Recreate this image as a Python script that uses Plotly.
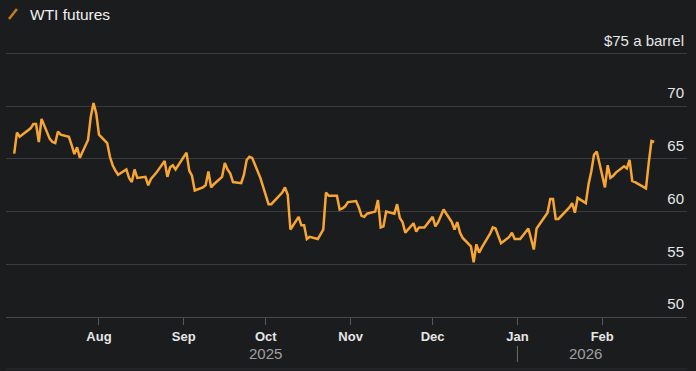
import pandas as pd
import plotly.graph_objects as go

# ---- data ----
dates = [
    "2025-07-01","2025-07-02","2025-07-03","2025-07-07","2025-07-08","2025-07-09","2025-07-10","2025-07-11",
    "2025-07-14","2025-07-15","2025-07-16","2025-07-17","2025-07-18","2025-07-21","2025-07-22","2025-07-23",
    "2025-07-24","2025-07-25","2025-07-28","2025-07-29","2025-07-30","2025-07-31",
    "2025-08-01","2025-08-04","2025-08-05","2025-08-06","2025-08-07","2025-08-08","2025-08-11","2025-08-12",
    "2025-08-13","2025-08-14","2025-08-15","2025-08-18","2025-08-19","2025-08-20","2025-08-21","2025-08-22",
    "2025-08-25","2025-08-26","2025-08-27","2025-08-28","2025-08-29",
    "2025-09-02","2025-09-03","2025-09-04","2025-09-05","2025-09-08","2025-09-09","2025-09-10","2025-09-11",
    "2025-09-12","2025-09-15","2025-09-16","2025-09-17","2025-09-18","2025-09-19","2025-09-22","2025-09-23",
    "2025-09-24","2025-09-25","2025-09-26","2025-09-29","2025-09-30",
    "2025-10-01","2025-10-02","2025-10-03","2025-10-06","2025-10-07","2025-10-08","2025-10-09","2025-10-10",
    "2025-10-13","2025-10-14","2025-10-15","2025-10-16","2025-10-17","2025-10-20","2025-10-21","2025-10-22",
    "2025-10-23","2025-10-24","2025-10-27","2025-10-28","2025-10-29","2025-10-30","2025-10-31",
    "2025-11-03","2025-11-04","2025-11-05","2025-11-06","2025-11-07","2025-11-10","2025-11-11","2025-11-12",
    "2025-11-13","2025-11-14","2025-11-17","2025-11-18","2025-11-19","2025-11-20","2025-11-21","2025-11-24",
    "2025-11-25","2025-11-26","2025-11-28",
    "2025-12-01","2025-12-02","2025-12-03","2025-12-04","2025-12-05","2025-12-08","2025-12-09","2025-12-10",
    "2025-12-11","2025-12-12","2025-12-15","2025-12-16","2025-12-17","2025-12-18","2025-12-19","2025-12-22",
    "2025-12-23","2025-12-24","2025-12-26","2025-12-29","2025-12-30","2025-12-31",
    "2026-01-02","2026-01-05","2026-01-06","2026-01-07","2026-01-08","2026-01-09","2026-01-12","2026-01-13",
    "2026-01-14","2026-01-15","2026-01-16","2026-01-20","2026-01-21","2026-01-22","2026-01-23","2026-01-26",
    "2026-01-27","2026-01-28","2026-01-29","2026-01-30",
    "2026-02-02","2026-02-03","2026-02-04","2026-02-05","2026-02-06","2026-02-09","2026-02-10","2026-02-11",
    "2026-02-12","2026-02-13","2026-02-17","2026-02-18","2026-02-19","2026-02-20",
]
wti = [
    65.5, 67.5, 67.1, 67.9, 68.3, 68.3, 66.6, 68.8,
    66.9, 66.6, 66.5, 67.6, 67.3, 67.1, 66.3, 65.45,
    66.1, 65.1, 66.8, 69.0, 70.3, 69.3,
    67.3, 66.5, 65.2, 64.4, 63.9, 63.5, 64.0, 63.2,
    62.8, 64.0, 63.2, 63.3, 62.5, 63.1, 63.4, 63.7,
    64.8, 63.3, 64.2, 64.4, 64.0,
    65.6, 63.9, 63.4, 62.0, 62.3, 62.5, 63.8, 62.3,
    62.6, 63.3, 64.6, 64.0, 63.6, 62.8, 62.7, 63.5,
    64.9, 65.2, 65.1, 63.2, 62.4,
    61.7, 60.7, 60.7, 61.6, 61.8, 62.3, 61.6, 58.3,
    59.5, 58.7, 58.7, 57.4, 57.6, 57.4, 57.9, 58.3,
    61.8, 61.5, 61.5, 60.2, 60.3, 60.5, 60.9,
    61.0, 60.4, 59.6, 59.5, 59.8, 60.0, 61.1, 58.5,
    58.6, 60.0, 59.8, 60.7, 59.4, 59.0, 58.0, 58.9,
    58.1, 58.5, 58.5,
    59.5, 58.6, 59.0, 59.6, 60.2, 59.0, 58.3, 59.0,
    58.0, 57.5, 56.7, 55.2, 56.9, 56.1, 56.6, 57.9,
    58.5, 58.4, 57.0, 57.6, 58.0, 57.4,
    57.4, 58.4, 57.3, 56.4, 58.4, 58.8, 59.9, 61.2,
    61.2, 59.3, 59.3, 60.4, 60.8, 59.9, 61.3, 60.8,
    62.6, 63.8, 65.4, 65.7,
    62.3, 64.4, 63.2, 63.4, 63.7, 64.3, 64.1, 64.9,
    62.9, 62.8, 62.2, 64.6, 66.7, 66.6,
]
series_name = "WTI futures"
month_ticks = ["2025-08-01","2025-09-01","2025-10-01","2025-11-01","2025-12-01","2026-01-01","2026-02-01"]
month_labels = ["Aug","Sep","Oct","Nov","Dec","Jan","Feb"]
y_ticks = [50, 55, 60, 65, 70, 75]
y_labels = ["50", "55", "60", "65", "70", "$75 a barrel"]
year_break = "2026-01-01"

# ---- styling ----
BG = "#1b1c1e"
LINE = "#f7a533"
GRID = "#3a3b3e"
TXT = "#e6e6e6"
FONT = "Liberation Sans, Arial, sans-serif"

d = pd.to_datetime(dates)
brk = pd.Timestamp(year_break)
mid25 = d[0] + (brk - d[0]) / 2
mid26 = brk + (d[-1] - brk) / 2

fig = go.Figure()
fig.add_trace(go.Scatter(x=d, y=wti, mode="lines", name=series_name,
                         line=dict(color=LINE, width=2.5), hoverinfo="x+y"))

fig.update_layout(
    width=696, height=371,
    margin=dict(l=6, r=9, t=30, b=54),
    paper_bgcolor=BG, plot_bgcolor=BG,
    showlegend=False,
    font=dict(family=FONT, color=TXT),
    xaxis=dict(
        range=["2025-06-28", "2026-03-04"],
        tickvals=month_ticks, ticktext=month_labels,
        showgrid=False, zeroline=False,
        ticks="outside", ticklen=7, tickcolor="#55575a", tickwidth=1,
        showline=True, linecolor="#45474a", linewidth=1,
        tickfont=dict(size=13, color=TXT, family=FONT, weight="bold"),
    ),
    yaxis=dict(
        range=[50, 77.23],
        side="right",
        tickvals=y_ticks, ticktext=y_labels,
        ticklabelposition="inside", ticklabelshift=-13,
        showgrid=True, gridcolor=GRID, gridwidth=1,
        zeroline=False, ticks="",
        tickfont=dict(size=15, color=TXT, family=FONT),
    ),
)

# legend (icon + text)
fig.add_shape(type="line", xref="paper", yref="paper",
              x0=0.0044, y0=1.0383, x1=0.016, y1=1.0732,
              line=dict(color="#c97a1f", width=2.5))
fig.add_annotation(xref="paper", yref="paper", x=0.0325, y=1.0557,
                   text=series_name, showarrow=False, xanchor="left", yanchor="middle",
                   font=dict(size=15.5, color="#f0f0f0", family=FONT))

# year labels
for xv, lab in [(mid25, "2025"), (mid26, "2026")]:
    fig.add_annotation(x=xv, xref="x", yref="paper", y=-0.1289, text=lab,
                       showarrow=False, xanchor="center", yanchor="middle",
                       font=dict(size=15, color="#a0a0a0", family=FONT))
fig.add_shape(type="line", xref="x", yref="paper", x0=brk, x1=brk,
              y0=-0.101, y1=-0.1568, line=dict(color="#6a6c70", width=1))
fig.add_shape(type="line", xref="paper", yref="paper", x0=0, x1=1,
              y0=-0.1812, y1=-0.1812, line=dict(color="#2c2d30", width=1))

fig.write_html("out.html", config={"displayModeBar": False},
               post_script="document.body.style.margin='0';document.body.style.background='#1b1c1e';")
